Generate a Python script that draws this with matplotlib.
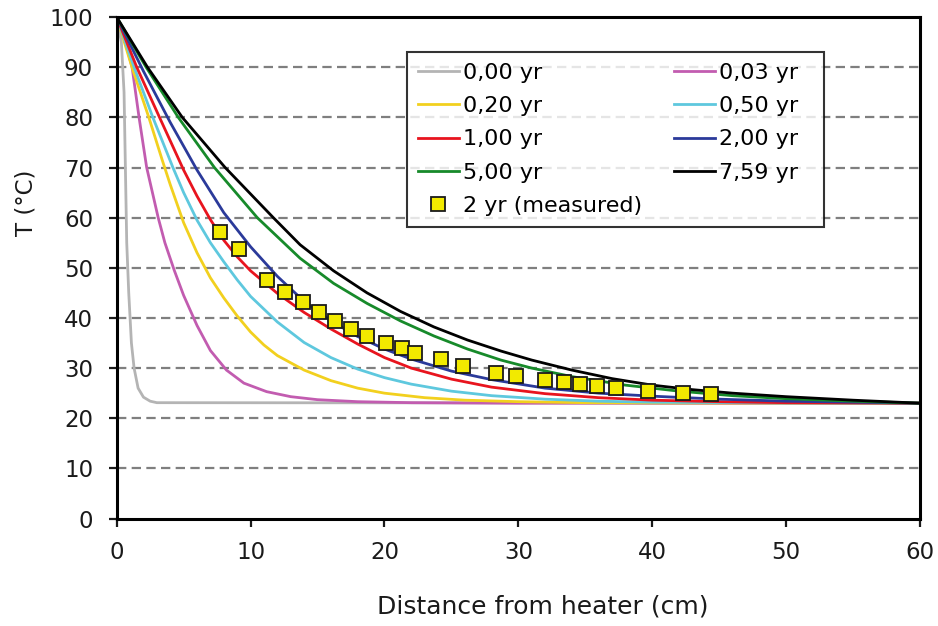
import numpy as np
import matplotlib
matplotlib.use("Agg")
import matplotlib.pyplot as plt

plt.rcParams['font.family'] = ['DejaVu Sans']

# curves: distance (cm) and temperature (degC)
x_000 = [0, 0.35, 0.55, 0.65, 0.75, 0.9, 1.1, 1.3, 1.6, 2.0, 2.5, 3.0, 60]
t_000 = [100, 95, 85, 70, 55, 45, 35, 30, 26, 24.2, 23.4, 23.1, 23]

x_003 = [0, 0.6, 1.15, 1.67, 2.24, 3.1, 3.6, 4.3, 5, 6, 7, 8.2, 9.5, 11.2, 13, 15, 18, 22, 30, 60]
t_003 = [100, 95.5, 90, 80, 70, 60, 55, 49.5, 44.5, 38.5, 33.5, 29.6, 27, 25.3, 24.3, 23.7, 23.3,
         23.1, 23, 23]

x_020 = [0, 1.2, 2.4, 3.4, 4, 5, 6, 7, 8, 9, 10, 11, 12, 14, 16, 18, 20, 23, 26, 30, 35, 40, 60]
t_020 = [100, 89.5, 80, 71.5, 66.6, 59, 53, 48, 44, 40.4, 37.2, 34.6, 32.5, 29.6, 27.5, 26.0, 25.0,
         24.1, 23.6, 23.3, 23.1, 23.05, 23]

x_050 = [0, 1.3, 2.7, 4.2, 5, 6, 7, 8, 9, 10, 12, 14, 16, 18, 20, 22, 25, 28, 32, 36, 40, 50, 60]
t_050 = [100, 90, 80, 70, 65, 59.5, 55, 51.2, 47.6, 44.3, 39.2, 35.1, 32.1, 29.8, 28.1, 26.8, 25.4,
         24.5, 23.8, 23.4, 23.2, 23.05, 23]

x_100 = [0, 1.5, 3.2, 5, 6, 7, 8, 9, 10, 12, 14, 16, 18, 20, 22, 25, 28, 32, 36, 40, 45, 50, 60]
t_100 = [100, 90, 80, 69.5, 64.3, 59.6, 55.5, 52.2, 49.4, 44.9, 41.1, 37.8, 34.8, 32.1, 30.0, 27.8,
         26.2, 24.9, 24.1, 23.6, 23.3, 23.1, 23]

x_200 = [0, 2, 4, 6, 8, 10, 12, 14, 16, 18, 20, 22, 25, 28, 32, 36, 40, 45, 50, 55, 60]
t_200 = [100, 89.2, 79.0, 69.5, 61, 54.2, 48.3, 43.3, 39.4, 36.3, 33.8, 31.8, 29.4, 27.7, 26.0,
         25.0, 24.4, 23.8, 23.4, 23.2, 23]

x_500 = [0, 2.2, 4.6, 7.3, 10.5, 13.7, 16.2, 18.7, 21.2, 23.7, 26.2, 28.7, 31, 34, 38, 42, 46, 50,
         55, 60]
t_500 = [100, 90, 80, 70, 60, 51.9, 46.9, 42.9, 39.4, 36.4, 33.8, 31.6, 30.0, 28.3, 26.6, 25.4,
         24.5, 23.9, 23.4, 23]

x_759 = [0, 2.3, 4.9, 8.1, 11.7, 13.7, 16.2, 18.7, 21.2, 23.7, 26.2, 28.7, 31, 34, 37, 40, 43, 46,
         50, 55, 60]
t_759 = [100, 90, 80, 70, 60, 54.6, 49.4, 45.0, 41.3, 38.2, 35.6, 33.4, 31.6, 29.6, 27.9, 26.6,
         25.7, 25.0, 24.3, 23.6, 23]

# measured at 2 yr
x_meas = [7.73, 9.1, 11.2, 12.6, 13.9, 15.1, 16.3, 17.5, 18.7, 20.1, 21.3, 22.3, 24.2, 25.9,
          28.3, 29.8, 32.0, 33.4, 34.6, 35.9, 37.3, 39.7, 42.3, 44.4]
t_meas = [57.2, 53.7, 47.6, 45.2, 43.1, 41.1, 39.4, 37.8, 36.3, 35.0, 34.0, 33.0, 31.8, 30.5,
          29.1, 28.4, 27.7, 27.2, 26.8, 26.4, 26.1, 25.4, 25.0, 24.8]

fig = plt.figure(figsize=(9.38, 6.26), dpi=100)
ax = fig.add_axes([0.1244, 0.1717, 0.8564, 0.8010])

for y in range(10, 100, 10):
    ax.axhline(y, color='#7f7f7f', lw=1.6, ls=(0, (4.2, 2.4)), zorder=1)

lw = 2.0
h000, = ax.plot(x_000, t_000, color='#b4b4b4', lw=lw, label='0,00 yr')
h003, = ax.plot(x_003, t_003, color='#c25cb0', lw=lw, label='0,03 yr  ')
h020, = ax.plot(x_020, t_020, color='#f2d01e', lw=lw, label='0,20 yr')
h050, = ax.plot(x_050, t_050, color='#5ec8de', lw=lw, label='0,50 yr')
h100, = ax.plot(x_100, t_100, color='#e8141e', lw=lw, label='1,00 yr')
h200, = ax.plot(x_200, t_200, color='#2b3a9a', lw=lw, label='2,00 yr')
h500, = ax.plot(x_500, t_500, color='#178a2a', lw=lw, label='5,00 yr')
h759, = ax.plot(x_759, t_759, color='#000000', lw=lw, label='7,59 yr')
hm, = ax.plot(x_meas, t_meas, ls='none', marker='s', ms=9.5, mfc='#f2ea00', mec='#1a1a1a',
              mew=1.3, label='2 yr (measured)', zorder=5)

ax.set_xlim(0, 60)
ax.set_ylim(0, 100)
ax.set_xticks(range(0, 61, 10))
ax.set_yticks(range(0, 101, 10))
ax.tick_params(direction='out', length=6, width=1.6, labelsize=16.5, colors='#1a1a1a')
ax.tick_params(axis='y', pad=11)
ax.tick_params(axis='x', pad=10)
for s in ax.spines.values():
    s.set_linewidth(2.2)
    s.set_color('black')

ax.set_xlabel('Distance from heater (cm)', fontsize=18, color='#1a1a1a')
ax.set_ylabel('T (°C)', fontsize=16.5, color='#1a1a1a')
ax.xaxis.set_label_coords(0.531, -0.152)
ax.yaxis.set_label_coords(-0.098, 0.629)

handles = [h000, h020, h100, h500, hm, h003, h050, h200, h759]
leg = ax.legend(handles=handles, ncol=2, loc='upper left', bbox_to_anchor=(0.361, 0.931),
                borderaxespad=0, fontsize=16, frameon=True, fancybox=False,
                handlelength=1.85, handletextpad=0.18, columnspacing=1.45,
                labelspacing=0.6, borderpad=0.5)
leg.get_frame().set_edgecolor('black')
leg.get_frame().set_linewidth(1.5)

fig.savefig('out.png', dpi=100)
